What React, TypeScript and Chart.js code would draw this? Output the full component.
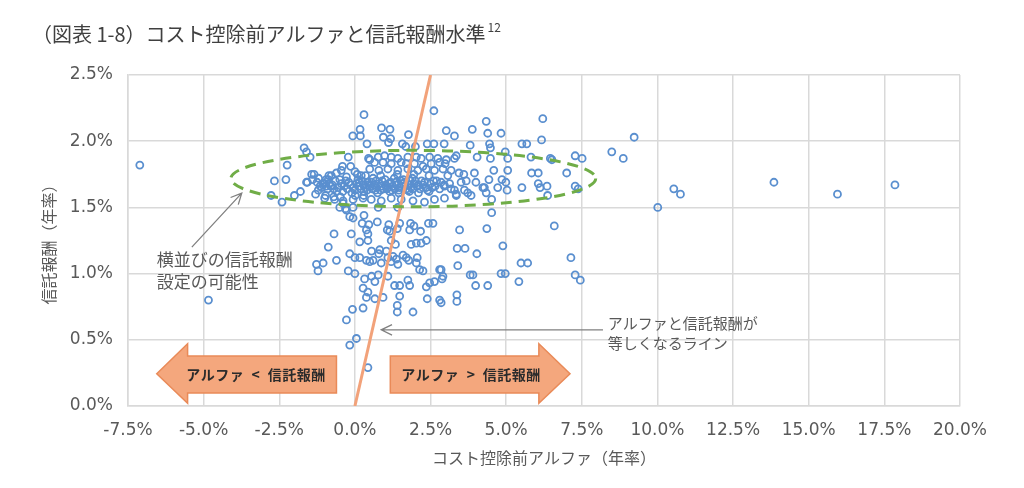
import React, { useEffect, useRef } from "react";
import { Chart, registerables } from "chart.js";

Chart.register(...registerables);

// ---- text ----
const TITLE = "（図表 1-8）コスト控除前アルファと信託報酬水準";
const TITLE_SUP = "12";
const X_AXIS_TITLE = "コスト控除前アルファ（年率）";
const Y_AXIS_TITLE = "信託報酬（年率）";

// ---- axes ----
const X_MIN = -7.5;
const X_MAX = 20;
const X_STEP = 2.5;
const Y_MIN = 0;
const Y_MAX = 2.5;
const Y_STEP = 0.5;

// ---- data: [cost-before alpha %, trust fee %] ----
const upperPoints: [number, number][] = [
  [-1.68, 1.95], [-1.6, 1.92], [-1.48, 1.88], [-0.22, 1.88], [-0.07, 2.04], [0.17, 2.09], [0.18, 2.04], [0.3, 2.2], [0.4, 1.98], [0.45, 1.87],
  [0.88, 2.1], [1.16, 2.09], [0.94, 2.03], [1.18, 2.02], [1.11, 1.99], [1.77, 2.05], [1.57, 1.98], [1.68, 1.96], [2.0, 1.96], [2.39, 1.98], [2.61, 1.98], [2.61, 2.23],
  [3.02, 2.08], [3.29, 2.04], [2.95, 1.98],
  [0.49, 1.86], [0.77, 1.88], [0.98, 1.89], [1.2, 1.88], [1.42, 1.87], [1.75, 1.88], [2.03, 1.88], [2.19, 1.87], [2.47, 1.88], [2.74, 1.87], [3.02, 1.86], [3.29, 1.87],
  [6.21, 2.17], [4.34, 2.15], [3.88, 2.09], [4.39, 2.06], [4.83, 2.06], [3.81, 1.97], [4.45, 1.98], [4.48, 1.95], [5.52, 1.98], [5.68, 1.98], [6.17, 2.01],
  [3.35, 1.89], [4.04, 1.88], [4.48, 1.87], [4.97, 1.92], [5.05, 1.87], [5.82, 1.88], [6.46, 1.87], [6.51, 1.86],
  [9.23, 2.03], [7.28, 1.89], [7.51, 1.87], [8.49, 1.92], [8.87, 1.87],
];

const bandPoints: [number, number][] = [
  [0.65, 1.84], [0.93, 1.84], [1.2, 1.83], [1.53, 1.84], [1.7, 1.83], [1.97, 1.83], [2.25, 1.81], [2.52, 1.83], [2.8, 1.84], [2.98, 1.83],
  [0.49, 1.79], [0.79, 1.78], [1.09, 1.79], [1.42, 1.78], [1.75, 1.79], [2.08, 1.78], [2.36, 1.79], [2.63, 1.78], [2.91, 1.79], [3.18, 1.78],
  [-1.43, 1.75], [-1.6, 1.69], [-0.78, 1.74], [-0.61, 1.76], [-0.88, 1.71], [-0.45, 1.78], [-0.28, 1.73], [0.0, 1.77], [0.21, 1.74],
  [-1.35, 1.75], [-1.4, 1.71], [-1.57, 1.69], [-1.05, 1.68], [-0.86, 1.74], [-0.41, 1.81], [-0.14, 1.81], [-1.21, 1.63], [-1.1, 1.65],
  [-0.95, 1.66], [-0.8, 1.66], [-0.7, 1.58], [-0.97, 1.59], [-0.48, 1.58], [-0.39, 1.53], [-0.31, 1.49], [0.01, 1.59], [0.29, 1.59],
  [-1.15, 1.66], [-1.0, 1.68], [-0.9, 1.64], [-0.75, 1.67], [-0.65, 1.7], [-0.55, 1.65], [-0.45, 1.68], [-0.35, 1.66], [-0.25, 1.64],
  [-0.15, 1.67], [-0.05, 1.65], [0.05, 1.68], [0.12, 1.66], [0.2, 1.64], [0.28, 1.67], [0.35, 1.65], [0.42, 1.69], [0.5, 1.66],
  [0.58, 1.64], [0.65, 1.67], [0.72, 1.65], [0.8, 1.68], [0.88, 1.66], [0.95, 1.64], [1.02, 1.67], [1.1, 1.65], [1.18, 1.69],
  [1.25, 1.66], [1.32, 1.64], [1.4, 1.67], [1.48, 1.65], [1.55, 1.68], [1.62, 1.66], [1.7, 1.64], [1.78, 1.67], [1.86, 1.65],
  [1.95, 1.68], [2.05, 1.66], [2.15, 1.64], [2.25, 1.67], [2.35, 1.65], [2.5, 1.68], [2.65, 1.66], [2.8, 1.64], [0.1, 1.71],
  [0.6, 1.72], [1.0, 1.71], [1.3, 1.72], [1.6, 1.71], [1.9, 1.72], [2.2, 1.7], [-0.3, 1.7], [0.3, 1.62], [0.75, 1.61],
  [1.15, 1.62], [1.45, 1.61], [1.8, 1.62], [2.1, 1.61], [2.45, 1.62], [2.7, 1.7], [2.95, 1.67], [-0.6, 1.62], [-0.1, 1.61],
  [-1.25, 1.69], [-0.95, 1.71], [-0.7, 1.64], [-0.5, 1.71], [-0.2, 1.69], [0.0, 1.63], [0.15, 1.69], [0.25, 1.7], [0.4, 1.63],
  [0.45, 1.67], [0.55, 1.69], [0.68, 1.63], [0.7, 1.7], [0.85, 1.63], [0.9, 1.7], [1.05, 1.64], [1.12, 1.68], [1.22, 1.63],
  [1.35, 1.69], [1.45, 1.63], [1.52, 1.7], [1.65, 1.69], [1.75, 1.63], [1.82, 1.7], [1.92, 1.64], [2.0, 1.7], [2.1, 1.67],
  [2.3, 1.69], [2.4, 1.63], [2.55, 1.65], [2.6, 1.7], [-0.4, 1.62], [-0.85, 1.68], [0.08, 1.75], [0.35, 1.74], [0.85, 1.74],
  [1.4, 1.75], [1.95, 1.75], [2.45, 1.74], [-1.2, 1.72],
  [-1.0, 1.57], [-0.67, 1.56], [-0.39, 1.55], [-0.06, 1.56], [0.27, 1.57], [0.54, 1.56], [0.87, 1.55], [1.2, 1.57], [1.53, 1.56],
  [1.92, 1.55], [2.3, 1.54], [2.63, 1.56], [2.96, 1.57], [3.35, 1.59],
  [-0.5, 1.5], [-0.28, 1.48], [-0.06, 1.5], [0.77, 1.5], [1.42, 1.5],
  [3.44, 1.76], [3.6, 1.75], [3.95, 1.76], [3.07, 1.74], [4.59, 1.78], [5.05, 1.78], [5.84, 1.76], [6.06, 1.76],
  [3.51, 1.69], [3.68, 1.7], [4.0, 1.69], [4.23, 1.65], [4.28, 1.65], [4.43, 1.71], [4.72, 1.65], [4.86, 1.71], [4.99, 1.69],
  [5.03, 1.63], [5.52, 1.65], [6.06, 1.68], [6.12, 1.65], [6.35, 1.66], [6.37, 1.59], [2.85, 1.69], [2.96, 1.66], [3.13, 1.68],
  [3.18, 1.64], [3.29, 1.63], [3.62, 1.63], [3.73, 1.61], [3.84, 1.59], [3.35, 1.6], [4.34, 1.61], [4.52, 1.56],
  [7.0, 1.76], [7.28, 1.66], [7.38, 1.64],
  [-2.24, 1.82], [-2.66, 1.7], [-2.28, 1.71], [-2.77, 1.59], [-2.41, 1.54], [-2.0, 1.59], [-1.8, 1.62], [-1.3, 1.6],
];

const lowerPoints: [number, number][] = [
  [4.52, 1.46], [4.36, 1.34], [3.46, 1.33], [6.59, 1.36], [3.38, 1.19], [3.64, 1.19], [4.03, 1.15], [4.89, 1.21], [3.4, 1.06],
  [5.49, 1.08], [5.71, 1.08], [7.14, 1.12], [7.28, 0.99], [7.45, 0.95], [2.85, 1.03], [2.91, 0.98], [3.81, 0.99], [3.9, 0.99],
  [4.83, 1.0], [4.97, 1.0], [5.42, 0.94], [3.99, 0.91], [4.39, 0.91], [3.37, 0.84], [3.37, 0.79], [2.85, 0.78],
  [-0.17, 1.43], [-0.06, 1.42], [0.3, 1.44],
  [0.24, 1.38], [0.46, 1.37], [0.74, 1.39], [1.12, 1.37], [1.48, 1.38], [1.84, 1.38], [1.95, 1.36], [2.43, 1.38], [2.58, 1.38],
  [0.38, 1.33], [0.43, 1.3], [1.07, 1.33], [1.15, 1.32], [1.4, 1.34], [1.81, 1.33], [2.17, 1.32], [-0.69, 1.3], [-0.12, 1.3],
  [0.16, 1.24], [0.43, 1.25], [1.34, 1.22], [1.2, 1.25], [1.86, 1.22], [2.03, 1.23], [2.19, 1.23], [2.36, 1.25], [-0.88, 1.2],
  [-0.17, 1.15], [0.16, 1.12], [0.49, 1.09], [0.55, 1.17], [0.82, 1.18], [0.79, 1.15], [1.04, 1.17], [1.09, 1.12], [1.26, 1.13],
  [1.37, 1.11], [1.59, 1.14], [1.7, 1.12], [1.78, 1.1], [2.06, 1.12], [2.03, 1.08], [2.14, 1.03], [2.25, 1.02], [1.42, 1.07],
  [0.87, 1.08], [1.2, 1.09], [0.38, 1.1], [0.6, 1.1], [-0.61, 1.1], [-1.05, 1.08], [-1.27, 1.07], [-1.22, 1.02], [0.0, 1.12],
  [-0.22, 1.02], [0.0, 1.0], [2.8, 1.03], [2.88, 0.96],
  [0.32, 0.96], [0.55, 0.98], [0.77, 0.99], [0.66, 0.94], [0.27, 0.89], [0.43, 0.86],
  [1.09, 0.98], [1.31, 0.91], [1.48, 0.91], [1.75, 0.95], [1.81, 0.91], [2.36, 0.9], [2.47, 0.93], [2.63, 0.94],
  [0.38, 0.82], [0.93, 0.82], [0.66, 0.81], [0.27, 0.74], [1.4, 0.76], [1.4, 0.71], [1.92, 0.71], [1.48, 0.83], [2.39, 0.81],
  [2.8, 0.8], [-0.08, 0.73], [-0.28, 0.65], [0.05, 0.51], [-0.17, 0.46], [0.43, 0.29],
];

const outlierPoints: [number, number][] = [
  [-7.11, 1.82], [-4.84, 0.8], [10.01, 1.5], [10.54, 1.64], [10.76, 1.6], [13.85, 1.69], [15.95, 1.6], [17.85, 1.67],
];

// line where alpha equals the trust fee
const equalityLine: [number, number][] = [[0, 0], [2.5, 2.5]];

// ---- annotations (data units) ----
const ellipseNote = { cx: 1.93, cy: 1.718, rx: 6.03, ry: 0.213 };
const groupNoteLines = ["横並びの信託報酬", "設定の可能性"];
const groupNoteAt = { x: -6.55, y: 1.103 };
const groupPointer = { x1: -5.39, y1: 1.2, x2: -3.74, y2: 1.608 };
const lineNoteLines = ["アルファと信託報酬が", "等しくなるライン"];
const lineNoteAt = { x: 8.36, y: 0.627 };
const linePointer = { x1: 8.2, y1: 0.575, x2: 0.87, y2: 0.575 };
const leftArrow = { tipX: -6.55, headX: -5.53, endX: -0.61, label: "アルファ < 信託報酬", labelX: -3.27 };
const rightArrow = { tipX: 7.11, headX: 6.08, endX: 1.17, label: "アルファ > 信託報酬", labelX: 3.84 };
const arrowBand = { top: 0.378, bottom: 0.099, mid: 0.243, headTop: 0.47, headBottom: 0.02 };

// ---- styles ----
const GRID = "#D9D9D9";
const TEXT = "#595959";
const POINT_COLOR = "#5A8FCF";
const LINE_COLOR = "#F2A27A";
const ELLIPSE_COLOR = "#70AD47";
const ARROW_FILL = "#F4A77D";
const ARROW_STROKE = "#E98A58";
const JP = '"Noto Sans CJK JP", "Noto Sans", sans-serif';
const NUM = '"DejaVu Sans", "Noto Sans", sans-serif';

const toXY = (pts: [number, number][]) => pts.map(([x, y]) => ({ x, y }));

function pointer(ctx: CanvasRenderingContext2D, x1: number, y1: number, x2: number, y2: number) {
  ctx.beginPath();
  ctx.moveTo(x1, y1);
  ctx.lineTo(x2, y2);
  const a = Math.atan2(y2 - y1, x2 - x1);
  const L = 12;
  ctx.moveTo(x2 - L * Math.cos(a - 0.45), y2 - L * Math.sin(a - 0.45));
  ctx.lineTo(x2, y2);
  ctx.lineTo(x2 - L * Math.cos(a + 0.45), y2 - L * Math.sin(a + 0.45));
  ctx.stroke();
}

const annotationPlugin = {
  id: "annotations",
  afterDatasetsDraw(chart: any) {
    const ctx: CanvasRenderingContext2D = chart.ctx;
    const xs = chart.scales.x;
    const ys = chart.scales.y;
    const px = (v: number) => xs.getPixelForValue(v);
    const py = (v: number) => ys.getPixelForValue(v);
    ctx.save();

    // dashed ellipse
    const ecx = px(ellipseNote.cx);
    const ecy = py(ellipseNote.cy);
    ctx.beginPath();
    ctx.ellipse(ecx, ecy, Math.abs(px(ellipseNote.cx + ellipseNote.rx) - ecx), Math.abs(py(ellipseNote.cy + ellipseNote.ry) - ecy), 0, 0, Math.PI * 2);
    ctx.setLineDash([11, 7]);
    ctx.lineWidth = 3;
    ctx.strokeStyle = ELLIPSE_COLOR;
    ctx.stroke();
    ctx.setLineDash([]);

    // pointers
    ctx.strokeStyle = "#808080";
    ctx.lineWidth = 1.3;
    pointer(ctx, px(groupPointer.x1), py(groupPointer.y1), px(groupPointer.x2), py(groupPointer.y2));
    pointer(ctx, px(linePointer.x1), py(linePointer.y1), px(linePointer.x2), py(linePointer.y2));

    // notes
    ctx.fillStyle = TEXT;
    ctx.textAlign = "left";
    ctx.textBaseline = "middle";
    ctx.font = `17px ${JP}`;
    groupNoteLines.forEach((t, i) => ctx.fillText(t, px(groupNoteAt.x), py(groupNoteAt.y) + i * 22));
    ctx.font = `15px ${JP}`;
    lineNoteLines.forEach((t, i) => ctx.fillText(t, px(lineNoteAt.x), py(lineNoteAt.y) + i * 20));

    // block arrows
    const yT = py(arrowBand.top), yB = py(arrowBand.bottom), yM = py(arrowBand.mid);
    const yHT = py(arrowBand.headTop), yHB = py(arrowBand.headBottom);
    [leftArrow, rightArrow].forEach((a) => {
      const tip = px(a.tipX), head = px(a.headX), end = px(a.endX);
      ctx.beginPath();
      ctx.moveTo(tip, yM);
      ctx.lineTo(head, yHT);
      ctx.lineTo(head, yT);
      ctx.lineTo(end, yT);
      ctx.lineTo(end, yB);
      ctx.lineTo(head, yB);
      ctx.lineTo(head, yHB);
      ctx.closePath();
      ctx.fillStyle = ARROW_FILL;
      ctx.fill();
      ctx.strokeStyle = ARROW_STROKE;
      ctx.lineWidth = 1.5;
      ctx.stroke();
      ctx.fillStyle = "#2B2B2B";
      ctx.font = `bold 14px ${JP}`;
      ctx.textAlign = "center";
      (ctx as any).letterSpacing = "0.5px";
      ctx.fillText(a.label.replace(/ /g, "  "), px(a.labelX), yM + 1);
      (ctx as any).letterSpacing = "0px";
    });

    // chart title with superscript
    ctx.textAlign = "left";
    ctx.textBaseline = "middle";
    ctx.fillStyle = "#404040";
    ctx.font = `20px ${JP}`;
    ctx.fillText(TITLE, 32, 34);
    const w = ctx.measureText(TITLE).width;
    ctx.font = `12px ${JP}`;
    ctx.fillText(TITLE_SUP, 32 + w + 2, 27);
    ctx.restore();
  },
};

export default function App() {
  const ref = useRef<HTMLCanvasElement>(null);
  useEffect(() => {
    document.body.style.margin = "0";
    const canvas = ref.current!;
    const allPoints = [...upperPoints, ...bandPoints, ...lowerPoints, ...outlierPoints];
    const chart = new Chart(canvas, {
      type: "scatter",
      data: {
        datasets: [
          {
            type: "line",
            data: toXY(equalityLine),
            borderColor: LINE_COLOR,
            borderWidth: 3,
            pointRadius: 0,
            showLine: true,
            fill: false,
            order: 0,
          } as any,
          {
            type: "scatter",
            data: toXY(allPoints),
            pointRadius: 3.5,
            borderWidth: 1.8,
            borderColor: POINT_COLOR,
            backgroundColor: "rgba(255,255,255,0)",
            order: 1,
          } as any,
        ],
      },
      options: {
        responsive: false,
        animation: false,
        devicePixelRatio: 1,
        layout: { padding: { left: 0, right: 64, top: 75, bottom: 0 } },
        plugins: { legend: { display: false }, tooltip: { enabled: false }, title: { display: false } },
        scales: {
          x: {
            type: "linear",
            min: X_MIN,
            max: X_MAX,
            afterFit: (s: any) => { s.height = 82; },
            ticks: {
              stepSize: X_STEP,
              autoSkip: false,
              maxRotation: 0,
              padding: 14,
              color: TEXT,
              font: { family: NUM, size: 17 },
              callback: (v: any) => Number(v).toFixed(1) + "%",
            },
            grid: { color: GRID, lineWidth: 1.5, drawTicks: false },
            border: { color: GRID, width: 1.5 },
            title: {
              display: true,
              text: X_AXIS_TITLE,
              color: TEXT,
              font: { family: JP, size: 16 },
              padding: { top: 0, bottom: 20 },
            },
          },
          y: {
            type: "linear",
            min: Y_MIN,
            max: Y_MAX,
            afterFit: (s: any) => { s.width = 128; },
            ticks: {
              stepSize: Y_STEP,
              padding: 15,
              color: TEXT,
              font: { family: NUM, size: 17 },
              callback: (v: any) => Number(v).toFixed(1) + "%",
            },
            grid: { color: GRID, lineWidth: 1.5, drawTicks: false },
            border: { color: GRID, width: 1.5 },
            title: {
              display: true,
              text: Y_AXIS_TITLE,
              color: TEXT,
              font: { family: JP, size: 16 },
              padding: { top: 39, bottom: 0 },
            },
          },
        },
      } as any,
      plugins: [annotationPlugin],
    });
    return () => chart.destroy();
  }, []);
  return (
    <div style={{ width: 1024, height: 488 }}>
      <canvas ref={ref} width={1024} height={488} style={{ display: "block" }} />
    </div>
  );
}
